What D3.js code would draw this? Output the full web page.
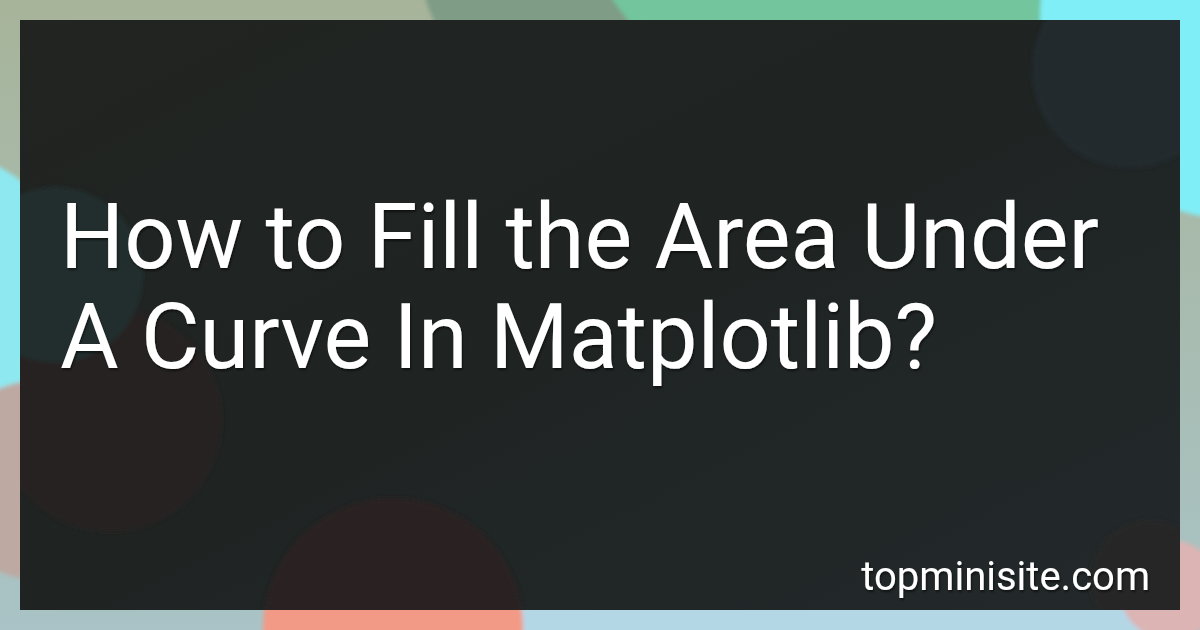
<!DOCTYPE html>
<meta charset="utf-8">
<script src="https://d3js.org/d3.v7.min.js"></script>
<style>
  html, body { margin: 0; padding: 0; background: #a8bba8; }
  svg { display: block; }
</style>
<div id="card"></div>
<script>

// text of the card
var titleLines = ["How to Fill the Area Under", "A Curve In Matplotlib?"];
var siteName = "topminisite.com";

// soft colour spots behind the panel
var outerSpots = [
  {cx: 560, cy: -40, r: 140, color: "#7f9c86"},
  {cx: 860, cy: -170, r: 300, color: "#72c59d"},
  {cx: 1240, cy: 20, r: 200, color: "#80eef6"},
  {cx: -70, cy: 300, r: 150, color: "#8ee8f0"},
  {cx: 40, cy: 480, r: 100, color: "#bda9a2"},
  {cx: 830, cy: 660, r: 330, color: "#b4d7e6"},
  {cx: 393, cy: 628, r: 130, color: "#f29a86"},
  {cx: 1170, cy: 590, r: 50, color: "#dcb4b4"}
];

// spots seen through the panel
var innerSpots = [
  {cx: 1130, cy: 70, r: 98, color: "#242a2e"},
  {cx: 110, cy: 420, r: 112, color: "#282324"},
  {cx: 55, cy: 275, r: 88, color: "#222d2d"},
  {cx: 393, cy: 628, r: 130, color: "#2c2120"},
  {cx: 1150, cy: 580, r: 60, color: "#272627"}
];

var width = 1200,
    height = 630,
    panel = {x: 20, y: 20, w: 1160, h: 590};

var svg = d3.select("#card")
  .append("svg")
    .attr("width", width)
    .attr("height", height);

var defs = svg.append("defs");

defs.append("filter")
    .attr("id", "soft")
    .attr("x", "-20%").attr("y", "-20%")
    .attr("width", "140%").attr("height", "140%")
  .append("feGaussianBlur")
    .attr("stdDeviation", 2);

var bg = defs.append("linearGradient")
    .attr("id", "bgGrad")
    .attr("x1", 0).attr("y1", 0)
    .attr("x2", 0).attr("y2", 1);
bg.append("stop").attr("offset", "0%").attr("stop-color", "#a7b49a");
bg.append("stop").attr("offset", "60%").attr("stop-color", "#a8bdb4");
bg.append("stop").attr("offset", "100%").attr("stop-color", "#a9c3c6");

var pg = defs.append("linearGradient")
    .attr("id", "panelGrad")
    .attr("x1", 0).attr("y1", 0)
    .attr("x2", 1).attr("y2", 1);
pg.append("stop").attr("offset", "0%").attr("stop-color", "#212421");
pg.append("stop").attr("offset", "50%").attr("stop-color", "#1f2423");
pg.append("stop").attr("offset", "100%").attr("stop-color", "#23292b");

defs.append("clipPath")
    .attr("id", "panelClip")
  .append("rect")
    .attr("x", panel.x).attr("y", panel.y)
    .attr("width", panel.w).attr("height", panel.h);

var shadow = defs.append("filter")
    .attr("id", "textShadow")
    .attr("x", "-5%").attr("y", "-20%")
    .attr("width", "110%").attr("height", "150%");
shadow.append("feDropShadow")
    .attr("dx", 1).attr("dy", 2)
    .attr("stdDeviation", 1)
    .attr("flood-color", "#000")
    .attr("flood-opacity", 0.55);

// background
svg.append("rect")
    .attr("width", width)
    .attr("height", height)
    .attr("fill", "url(#bgGrad)");

svg.append("g")
    .attr("filter", "url(#soft)")
  .selectAll("circle")
  .data(outerSpots)
  .join("circle")
    .attr("cx", function(d) { return d.cx; })
    .attr("cy", function(d) { return d.cy; })
    .attr("r", function(d) { return d.r; })
    .attr("fill", function(d) { return d.color; });

// dark panel
var inner = svg.append("g")
    .attr("clip-path", "url(#panelClip)");

inner.append("rect")
    .attr("x", panel.x).attr("y", panel.y)
    .attr("width", panel.w).attr("height", panel.h)
    .attr("fill", "url(#panelGrad)");

inner.append("g")
    .attr("filter", "url(#soft)")
  .selectAll("circle")
  .data(innerSpots)
  .join("circle")
    .attr("cx", function(d) { return d.cx; })
    .attr("cy", function(d) { return d.cy; })
    .attr("r", function(d) { return d.r; })
    .attr("fill", function(d) { return d.color; });

// title
svg.append("g")
    .attr("filter", "url(#textShadow)")
  .selectAll("text")
  .data(titleLines)
  .join("text")
    .attr("x", 60)
    .attr("y", function(d, i) { return 268 + i * 100; })
    .attr("fill", "#ffffff")
    .style("font-family", "Roboto, 'Noto Sans', sans-serif")
    .style("font-size", "90px")
    .text(function(d) { return d; });

// site name
svg.append("text")
    .attr("x", 1150)
    .attr("y", 590)
    .attr("text-anchor", "end")
    .attr("fill", "#ffffff")
    .attr("filter", "url(#textShadow)")
    .style("font-family", "Roboto, 'Noto Sans', sans-serif")
    .style("font-size", "40px")
    .text(siteName);

</script>
